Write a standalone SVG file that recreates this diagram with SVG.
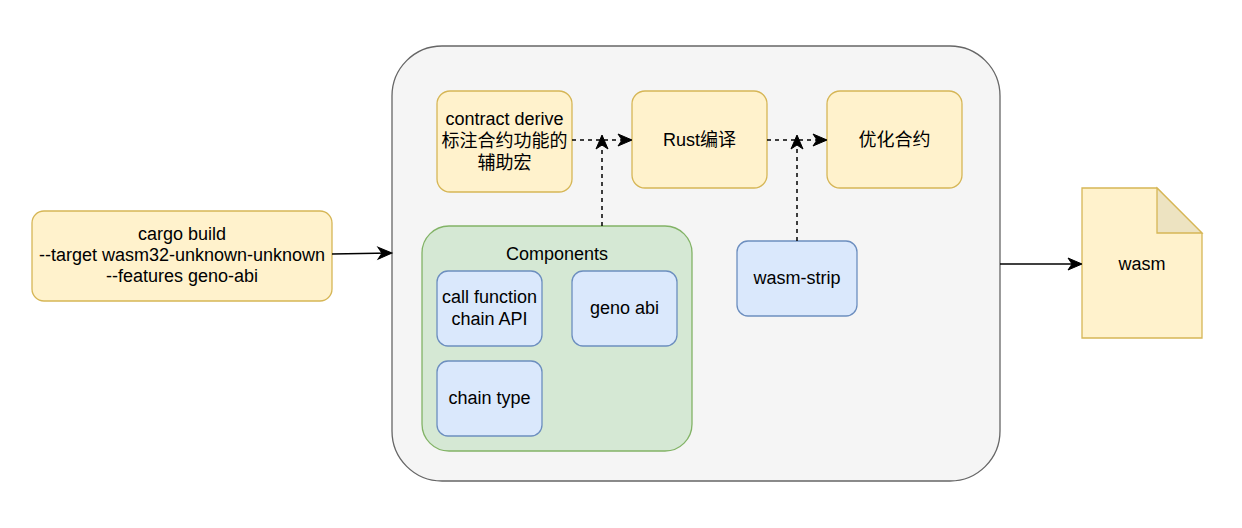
<svg xmlns="http://www.w3.org/2000/svg" width="1242" height="528" viewBox="0 0 1242 528">
<defs>
<style>
text{font-family:"Liberation Sans","Noto Sans CJK SC",Arial,sans-serif;font-size:18px;fill:#000;text-anchor:middle;dominant-baseline:central}
.y{fill:#fff2cc;stroke:#d6b656;stroke-width:1.3}
.b{fill:#dae8fc;stroke:#6c8ebf;stroke-width:1.3}
.g{fill:#d5e8d4;stroke:#82b366;stroke-width:1.3}
.c{fill:none;stroke:#000;stroke-width:1.5}
.d{stroke-dasharray:4 4}
</style>
<marker id="ah" markerWidth="16" markerHeight="16" refX="14" refY="8" orient="auto" markerUnits="userSpaceOnUse" overflow="visible">
<path d="M1,2 L15,8 L1,14 L5,8 Z" fill="#000" stroke="#000" stroke-width="1"/>
</marker>
</defs>
<rect width="1242" height="528" fill="#fff"/>
<g id="container"><rect x="392" y="46" width="608" height="435" rx="50" fill="#f5f5f5" stroke="#666666" stroke-width="1.3"/></g>
<g id="cargo"><rect class="y" x="32" y="211" width="300" height="90" rx="12"/><text x="182" y="234">cargo build</text><text x="182" y="255">--target wasm32-unknown-unknown</text><text x="182" y="276">--features geno-abi</text></g>
<g id="derive"><rect class="y" x="437" y="91" width="135" height="101" rx="13"/><text x="504.5" y="119">contract derive</text><text x="504.5" y="141">标注合约功能的</text><text x="504.5" y="163">辅助宏</text></g>
<g id="rust"><rect class="y" x="632" y="91" width="135" height="97" rx="13"/><text x="699.5" y="140">Rust编译</text></g>
<g id="optimize"><rect class="y" x="827" y="91" width="135" height="97" rx="13"/><text x="894.5" y="140">优化合约</text></g>
<g id="components"><rect class="g" x="422" y="226" width="270" height="225" rx="27"/><text x="557" y="254">Components</text></g>
<g id="callfn"><rect class="b" x="437" y="271" width="105" height="75" rx="11"/><text x="489.5" y="297">call function</text><text x="489.5" y="319">chain API</text></g>
<g id="genoabi"><rect class="b" x="572" y="271" width="105" height="75" rx="11"/><text x="624.5" y="308">geno abi</text></g>
<g id="chaintype"><rect class="b" x="437" y="361" width="105" height="75" rx="11"/><text x="489.5" y="398">chain type</text></g>
<g id="wasmstrip"><rect class="b" x="737" y="241" width="120" height="75" rx="11"/><text x="797" y="278">wasm-strip</text></g>
<g id="wasm"><path class="y" d="M1082,188 H1157 L1202,233 V338 H1082 Z"/><path d="M1157,188 V233 H1202 Z" fill="#ede3c1" stroke="#d6b656" stroke-width="1.3"/><text x="1142" y="264">wasm</text></g>
<g id="connectors">
<path class="c" d="M332,254 L391,253" marker-end="url(#ah)"/>
<path class="c d" d="M572,140 L631,140" marker-end="url(#ah)"/>
<path class="c d" d="M767,140 L826,140" marker-end="url(#ah)"/>
<path class="c d" d="M602,226 L602,136" marker-end="url(#ah)"/>
<path class="c d" d="M797,241 L797,136" marker-end="url(#ah)"/>
<path class="c" d="M1000,264 L1081,264" marker-end="url(#ah)"/>
</g>
</svg>
